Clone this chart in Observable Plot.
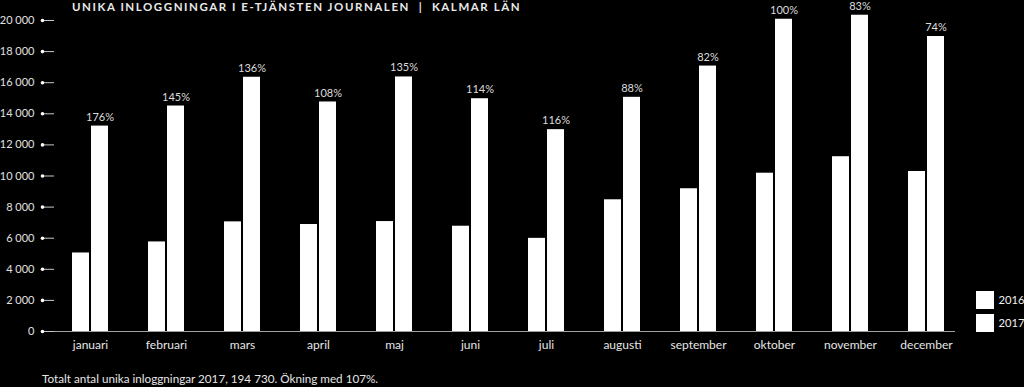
<!DOCTYPE html>
<html>
<head>
<meta charset="utf-8">
<script src="https://cdn.jsdelivr.net/npm/d3@7"></script>
<script src="https://cdn.jsdelivr.net/npm/@observablehq/plot@0.6"></script>
<style>
  html, body { margin: 0; padding: 0; background: #000; width: 1024px; height: 387px; overflow: hidden; }
  body { position: relative; font-family: Lato, "Open Sans", sans-serif; color: #e6e6e6; }
  #title { position: absolute; left: 72px; top: 0px; font-size: 11.5px; font-weight: 700; letter-spacing: 1.55px; white-space: pre; color: #e8e8e8; line-height: 14px; }
  #chart { position: absolute; left: 0; top: 0; }
  #caption { position: absolute; left: 42px; top: 371px; font-size: 11.7px; color: #e6e6e6; white-space: pre; }
  #legend { position: absolute; left: 976px; top: 291px; }
  .item { display: flex; align-items: center; height: 17.5px; margin-bottom: 5.5px; white-space: nowrap; }
  .sw { width: 17.5px; height: 17.5px; background: #fff; margin-right: 5px; flex: none; }
  .lab { font-size: 11.2px; color: #f0f0f0; }
</style>
</head>
<body>
<div id="title"></div>
<div id="chart"></div>
<div id="caption"></div>
<div id="legend"></div>
<script>
const title = "UNIKA INLOGGNINGAR I E-TJÄNSTEN JOURNALEN  |  KALMAR LÄN";
const caption = "Totalt antal unika inloggningar 2017, 194 730. Ökning med 107%.";
const months = ["januari","februari","mars","april","maj","juni","juli","augusti","september","oktober","november","december"];
const years = ["2016","2017"];
const values2016 = [5050, 5760, 7050, 6880, 7070, 6770, 5990, 8470, 9180, 10180, 11240, 10290];
const values2017 = [13210, 14500, 16350, 14760, 16370, 14970, 12980, 15060, 17070, 20080, 20340, 18970];
const increases = ["176%","145%","136%","108%","135%","114%","116%","88%","82%","100%","83%","74%"];
const yTicks = [0, 2000, 4000, 6000, 8000, 10000, 12000, 14000, 16000, 18000, 20000];

const rows = [];
months.forEach((m, i) => {
  rows.push({month: m, year: years[0], value: values2016[i]});
  rows.push({month: m, year: years[1], value: values2017[i], pct: increases[i]});
});
const labels = rows.filter(d => d.year === "2017");
const fmt = d => d3.format(",")(d).replace(/,/g, " ");
const tickDots = yTicks.map(v => ({v, month: months[0]}));

const chart = Plot.plot({
  width: 1024,
  height: 360,
  marginTop: 20,
  marginBottom: 29,
  marginLeft: 48,
  marginRight: 56,
  style: {background: "transparent", color: "#e0e0e0", fontFamily: "Lato, 'Open Sans', sans-serif"},
  fx: {domain: months, padding: 0, label: null, axis: null},
  x: {domain: years, paddingInner: 0.1, paddingOuter: 1.0, axis: null},
  y: {domain: [0, 20000], axis: null},
  marks: [
    Plot.ruleY([0], {stroke: "#a0a0a0", strokeWidth: 1.2, dx: -9}),
    Plot.barY(rows, {fx: "month", x: "year", y: "value", fill: "#ffffff"}),
    Plot.text(labels, {fx: "month", x: "year", y: "value", text: "pct", dy: -9, fill: "#dcdcdc", fontSize: 11}),
    Plot.axisY(yTicks, {anchor: "left", tickSize: 12, dx: 2, tickPadding: 8, tickFormat: fmt, stroke: "#c8c8c8", fill: "#e0e0e0", fontSize: 11, label: null}),
    Plot.dot(tickDots, {fx: "month", y: "v", frameAnchor: "left", dx: -10, r: 1.8, fill: "#ffffff", stroke: null}),
    Plot.axisFx({anchor: "bottom", tickSize: 0, tickPadding: 9, fontSize: 12, fill: "#e6e6e6", label: null})
  ]
});
document.getElementById("chart").appendChild(chart);
document.getElementById("title").textContent = title;
document.getElementById("caption").textContent = caption;
const leg = document.getElementById("legend");
years.forEach(y => {
  const it = document.createElement("div");
  it.className = "item";
  it.innerHTML = `<div class="sw"></div><span class="lab">${y}</span>`;
  leg.appendChild(it);
});
</script>
</body>
</html>
